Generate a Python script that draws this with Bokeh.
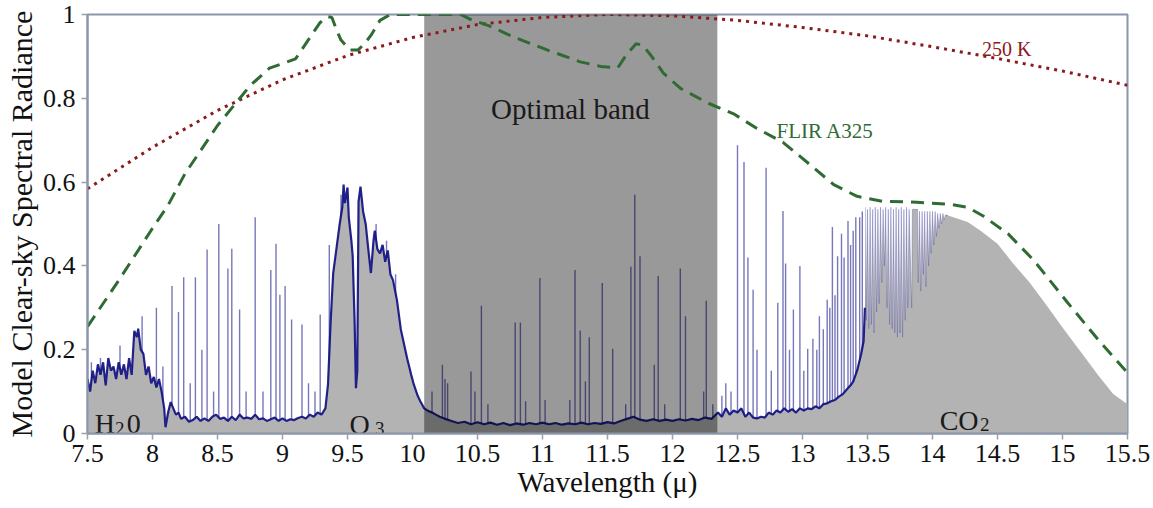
from bokeh.plotting import figure
from bokeh.models import FixedTicker, Range1d
from bokeh.core.properties import value
from bokeh.embed import file_html
from bokeh.resources import INLINE

# ---------------- data ----------------
x_ticks = [7.5, 8, 8.5, 9, 9.5, 10, 10.5, 11, 11.5, 12, 12.5, 13, 13.5, 14, 14.5, 15, 15.5]
x_tick_labels = ["7.5", "8", "8.5", "9", "9.5", "10", "10.5", "11", "11.5", "12", "12.5",
                 "13", "13.5", "14", "14.5", "15", "15.5"]
y_ticks = [0, 0.2, 0.4, 0.6, 0.8, 1.0]
y_tick_labels = ["0", "0.2", "0.4", "0.6", "0.8", "1"]

# 250 K blackbody curve (normalised)
bb_wl = [7.5, 8, 8.5, 9, 9.5, 10, 10.5, 11, 11.5, 12, 12.5, 13, 13.5, 14, 14.5, 15, 15.5]
bb_val = [0.584, 0.683, 0.771, 0.844, 0.902, 0.945, 0.976, 0.993, 1.0, 0.997, 0.986,
          0.969, 0.949, 0.923, 0.895, 0.865, 0.831]

# FLIR A325 spectral response
flir_wl = [7.50, 7.75, 8.00, 8.12, 8.25, 8.50, 8.75, 8.90, 9.00, 9.10, 9.20, 9.29, 9.35,
           9.38, 9.42, 9.45, 9.52, 9.58, 9.63, 9.68, 9.75, 9.83, 10.37, 10.45, 10.58,
           10.78, 11.04, 11.29, 11.45, 11.58, 11.65, 11.72, 11.77, 11.83, 11.93, 12.06,
           12.27, 12.47, 12.65, 12.85, 13.06, 13.24, 13.42, 13.62, 13.88, 14.14, 14.27,
           14.39, 14.58, 14.78, 15.04, 15.29, 15.50]
flir_val = [0.255, 0.37, 0.49, 0.545, 0.62, 0.735, 0.83, 0.872, 0.883, 0.894, 0.94, 0.981,
            0.995, 0.993, 0.96, 0.939, 0.915, 0.915, 0.93, 0.95, 0.986, 1.0, 1.0, 0.988,
            0.974, 0.946, 0.915, 0.887, 0.876, 0.873, 0.906, 0.93, 0.927, 0.904, 0.86,
            0.824, 0.789, 0.763, 0.728, 0.695, 0.641, 0.594, 0.566, 0.554, 0.552, 0.547,
            0.54, 0.519, 0.477, 0.413, 0.312, 0.218, 0.145]

# clear-sky spectrum: continuum / band envelope
spec_wl = [7.50, 7.52, 7.54, 7.56, 7.58, 7.60, 7.62, 7.64, 7.66, 7.68, 7.70, 7.72, 7.74,
           7.76, 7.78, 7.80, 7.82, 7.84, 7.86, 7.88, 7.89, 7.91, 7.93, 7.95, 7.97, 7.99,
           8.01, 8.03, 8.05, 8.07, 8.09, 8.10, 8.12, 8.14, 8.16, 8.18, 8.20, 8.22, 8.25,
           8.28, 8.31, 8.34, 8.37, 8.40, 8.43, 8.46, 8.49, 8.52, 8.55, 8.58, 8.61, 8.64,
           8.67, 8.70, 8.73, 8.76, 8.79, 8.82, 8.85, 8.88, 8.91, 8.94, 8.97, 9.00, 9.03,
           9.06, 9.09, 9.12, 9.15, 9.18, 9.21, 9.24, 9.27, 9.30, 9.33, 9.35, 9.37, 9.39,
           9.42, 9.44, 9.46, 9.47, 9.48, 9.50, 9.51, 9.53, 9.54, 9.555, 9.565, 9.575,
           9.585, 9.60, 9.62, 9.64, 9.66, 9.68, 9.70, 9.71, 9.73, 9.75, 9.77, 9.79, 9.81,
           9.83, 9.85, 9.88, 9.91, 9.93, 9.96, 9.99, 10.01, 10.04, 10.06, 10.09, 10.12,
           10.15, 10.18, 10.21, 10.25, 10.30, 10.35, 10.40, 10.45, 10.50, 10.55, 10.60,
           10.65, 10.70, 10.75, 10.80, 10.85, 10.90, 10.95, 11.00, 11.05, 11.10, 11.15,
           11.20, 11.25, 11.30, 11.35, 11.40, 11.45, 11.50, 11.55, 11.60, 11.65, 11.70,
           11.75, 11.80, 11.85, 11.90, 11.95, 12.00, 12.05, 12.10, 12.15, 12.20, 12.25,
           12.30, 12.35, 12.38, 12.41, 12.44, 12.47, 12.50, 12.53, 12.56, 12.59, 12.62,
           12.65, 12.68, 12.71, 12.74, 12.77, 12.80, 12.83, 12.86, 12.89, 12.92, 12.95,
           12.98, 13.01, 13.04, 13.07, 13.10, 13.13, 13.16, 13.19, 13.22, 13.25, 13.28,
           13.31, 13.34, 13.37, 13.39, 13.42, 13.45, 13.47, 13.48]
spec_rad = [0.13, 0.10, 0.15, 0.12, 0.165, 0.14, 0.17, 0.115, 0.18, 0.15, 0.16, 0.13, 0.17,
            0.14, 0.165, 0.13, 0.18, 0.14, 0.245, 0.23, 0.25, 0.20, 0.19, 0.14, 0.16, 0.12,
            0.135, 0.11, 0.13, 0.10, 0.06, 0.015, 0.05, 0.075, 0.06, 0.045, 0.05, 0.035, 0.04,
            0.028, 0.032, 0.04, 0.03, 0.036, 0.03, 0.04, 0.045, 0.035, 0.038, 0.03, 0.04, 0.032,
            0.045, 0.036, 0.038, 0.035, 0.045, 0.034, 0.036, 0.03, 0.034, 0.038, 0.03, 0.036,
            0.03, 0.034, 0.032, 0.037, 0.04, 0.036, 0.045, 0.04, 0.05, 0.045, 0.06, 0.117,
            0.265, 0.383, 0.453, 0.50, 0.54, 0.594, 0.55, 0.587, 0.516, 0.46, 0.423, 0.265,
            0.108, 0.148, 0.554, 0.589, 0.53, 0.50, 0.44, 0.383, 0.46, 0.484, 0.44, 0.43,
            0.45, 0.41, 0.437, 0.38, 0.366, 0.319, 0.249, 0.22, 0.178, 0.14, 0.117, 0.09,
            0.077, 0.06, 0.054, 0.05, 0.045, 0.04, 0.035, 0.03, 0.025, 0.028, 0.022, 0.027,
            0.022, 0.026, 0.021, 0.025, 0.02, 0.024, 0.021, 0.025, 0.022, 0.026, 0.022,
            0.025, 0.021, 0.024, 0.022, 0.026, 0.022, 0.025, 0.023, 0.027, 0.024, 0.03,
            0.035, 0.04, 0.033, 0.03, 0.034, 0.03, 0.033, 0.03, 0.034, 0.031, 0.035, 0.032,
            0.038, 0.035, 0.05, 0.04, 0.06, 0.045, 0.055, 0.05, 0.06, 0.04, 0.05, 0.038,
            0.036, 0.04, 0.038, 0.05, 0.045, 0.055, 0.05, 0.06, 0.052, 0.058, 0.05, 0.06,
            0.055, 0.06, 0.058, 0.065, 0.06, 0.07, 0.072, 0.077, 0.08, 0.088, 0.094, 0.105,
            0.115, 0.124, 0.15, 0.188, 0.22, 0.30]

# CO2 band: dense absorption dips under the envelope, then the smooth wing
co2_wl = [13.485, 13.49, 13.50, 13.51, 13.52, 13.53, 13.54, 13.55, 13.56, 13.57, 13.58,
          13.59, 13.60, 13.61, 13.62, 13.63, 13.64, 13.65, 13.66, 13.67, 13.68, 13.69,
          13.70, 13.71, 13.72, 13.73, 13.74, 13.75, 13.76, 13.77, 13.78, 13.79, 13.80,
          13.81, 13.82, 13.83, 13.84, 13.845, 13.885, 13.89, 13.90, 13.91, 13.92, 13.93,
          13.94, 13.95, 13.96, 13.97, 13.98, 13.99, 14.00, 14.01, 14.02, 14.03, 14.04,
          14.05, 14.06, 14.07, 14.08, 14.09, 14.10, 14.12, 14.16, 14.27, 14.37, 14.50,
          14.62, 14.75, 14.88, 15.01, 15.14, 15.27, 15.39, 15.50]
co2_rad = [0.54, 0.27, 0.535, 0.25, 0.54, 0.26, 0.535, 0.24, 0.54, 0.29, 0.535, 0.31, 0.54,
           0.36, 0.535, 0.40, 0.54, 0.30, 0.535, 0.26, 0.54, 0.25, 0.535, 0.24, 0.54, 0.23,
           0.535, 0.24, 0.54, 0.23, 0.535, 0.27, 0.54, 0.30, 0.535, 0.42, 0.30, 0.535, 0.535,
           0.36, 0.53, 0.34, 0.53, 0.38, 0.53, 0.35, 0.53, 0.40, 0.53, 0.43, 0.53, 0.45,
           0.53, 0.47, 0.525, 0.49, 0.525, 0.50, 0.525, 0.51, 0.522, 0.52, 0.516, 0.505,
           0.484, 0.453, 0.406, 0.359, 0.305, 0.249, 0.195, 0.141, 0.094, 0.07]

# narrow emission lines (wavelength, peak radiance)
line_wl = [7.53, 7.60, 7.75, 7.92, 8.03, 8.08, 8.15, 8.20, 8.24, 8.29, 8.33, 8.38, 8.42,
           8.47, 8.51, 8.58, 8.61, 8.67, 8.72, 8.79, 8.85, 8.91, 8.95, 8.98, 9.02, 9.07,
           9.15, 9.20, 9.25, 9.29, 9.36, 9.45, 9.72, 9.80, 9.87,
           10.15, 10.23, 10.25, 10.27, 10.45, 10.48, 10.53, 10.58, 10.79, 10.83, 10.87,
           10.98, 11.02, 11.21, 11.25, 11.29, 11.33, 11.36, 11.46, 11.54, 11.64, 11.68,
           11.71, 11.75, 11.86, 11.89, 11.94, 12.06, 12.10, 12.24, 12.26, 12.31,
           12.38, 12.41, 12.45, 12.50, 12.55, 12.58, 12.62, 12.65, 12.72, 12.76, 12.81,
           12.85, 12.87, 12.90, 12.93, 12.98, 13.01, 13.04, 13.08, 13.11, 13.13, 13.16,
           13.19, 13.21, 13.23, 13.25, 13.27, 13.30, 13.32, 13.35, 13.37, 13.39, 13.41,
           13.44, 13.46]
line_peak = [0.17, 0.18, 0.21, 0.28, 0.30, 0.16, 0.352, 0.29, 0.373, 0.12, 0.373, 0.20, 0.439,
             0.10, 0.50, 0.394, 0.441, 0.296, 0.10, 0.516, 0.10, 0.39, 0.453, 0.331, 0.352,
             0.272, 0.26, 0.12, 0.10, 0.284, 0.45, 0.57, 0.50, 0.46, 0.38,
             0.10, 0.164, 0.13, 0.12, 0.148, 0.10, 0.305, 0.07, 0.265, 0.265, 0.077,
             0.371, 0.08, 0.08, 0.39, 0.246, 0.124, 0.23, 0.359, 0.202, 0.07, 0.398,
             0.57, 0.423, 0.164, 0.376, 0.07, 0.394, 0.28, 0.10, 0.317, 0.07,
             0.09, 0.12, 0.10, 0.688, 0.648, 0.42, 0.343, 0.20, 0.634, 0.15, 0.312,
             0.531, 0.406, 0.20, 0.296, 0.40, 0.15, 0.202, 0.226, 0.20, 0.28, 0.249,
             0.319, 0.30, 0.493, 0.33, 0.423, 0.477, 0.42, 0.507, 0.45, 0.484, 0.516,
             0.516, 0.53]

band_lo, band_hi = 10.09, 12.345

# ---------------- figure ----------------
SERIF = "Liberation Serif"
p = figure(width=1153, height=508, output_backend="svg", toolbar_location=None,
           x_range=Range1d(7.5, 15.5), y_range=Range1d(0, 1),
           min_border_left=87, min_border_right=26, min_border_top=14, min_border_bottom=75)
p.grid.visible = False
p.outline_line_color = "#8a96aa"
p.outline_line_width = 2
p.background_fill_color = "white"
p.border_fill_color = "white"

full_wl = spec_wl + co2_wl
full_rad = spec_rad + co2_rad

# emission lines (their lower parts get hidden by the filled continuum)
p.segment(x0=line_wl, y0=[0] * len(line_wl), x1=line_wl, y1=line_peak,
          line_color="#1c1c8c", line_alpha=0.6, line_width=1.4)
# filled spectrum
p.varea(x=full_wl, y1=[0] * len(full_wl), y2=full_rad, fill_color="#b3b3b3")
# spectrum outline
p.line(spec_wl, spec_rad, line_color="#0c0c80", line_width=2.2, line_alpha=0.9)
p.line(co2_wl[:62], co2_rad[:62], line_color="#3030a0", line_width=0.8, line_alpha=0.35)

# optimal band shading
p.quad(left=[band_lo], right=[band_hi], bottom=[0], top=[1],
       fill_color="black", fill_alpha=0.4, line_color=None)

# curves
p.line(bb_wl, bb_val, line_color="#8b1a1a", line_width=3, line_dash="3 5")
p.line(flir_wl, flir_val, line_color="#2f6b33", line_width=3, line_dash="13 8")

# texts inside the plot
def txt(x, y, s, size, color="#1a1a1a", align="left"):
    p.text(x=[x], y=[y], text=[s], text_font=value(SERIF), text_font_size=size,
           text_color=color, text_align=align, text_baseline="alphabetic")

txt(11.215, 0.775, "Optimal band", "29px", align="center")
txt(12.80, 0.723, "FLIR A325", "21px", color="#2f6b33")
txt(14.38, 0.918, "250 K", "20px", color="#8b1a1a")
txt(7.555, 0.0235, "H", "28px")
txt(7.712, 0.012, "2", "19px")
txt(7.802, 0.0235, "0", "28px")
txt(9.515, 0.022, "O", "28px")
txt(9.712, 0.012, "3", "19px")
txt(14.055, 0.0305, "CO", "28px")
txt(14.365, 0.021, "2", "19px")

# axes
for ax in (p.xaxis[0], p.yaxis[0]):
    ax.axis_line_color = "#8a96aa"
    ax.axis_line_width = 2
    ax.major_tick_line_color = "#9a9fa8"
    ax.major_tick_line_width = 1.5
    ax.major_tick_out = 6
    ax.major_tick_in = 0
    ax.minor_tick_line_color = None
    ax.major_label_text_font = SERIF
    ax.major_label_text_font_size = "26px"
    ax.major_label_text_color = "#111111"
    ax.axis_label_text_font = SERIF
    ax.axis_label_text_font_style = "normal"
    ax.axis_label_text_color = "#111111"

p.xaxis.ticker = FixedTicker(ticks=x_ticks)
p.xaxis.major_label_overrides = {t: l for t, l in zip(x_ticks, x_tick_labels)}
p.yaxis.ticker = FixedTicker(ticks=y_ticks)
p.yaxis.major_label_overrides = {t: l for t, l in zip(y_ticks, y_tick_labels)}
p.xaxis.axis_label = "Wavelength (\u03bc)"
p.yaxis.axis_label = "Model Clear-sky Spectral Radiance"
p.xaxis.axis_label_text_font_size = "29px"
p.yaxis.axis_label_text_font_size = "30px"
p.xaxis.major_label_standoff = 5
p.xaxis.axis_label_standoff = 1
p.yaxis.major_label_standoff = 6
p.yaxis.axis_label_standoff = 2

open("out.html", "w").write(file_html(p, INLINE))
